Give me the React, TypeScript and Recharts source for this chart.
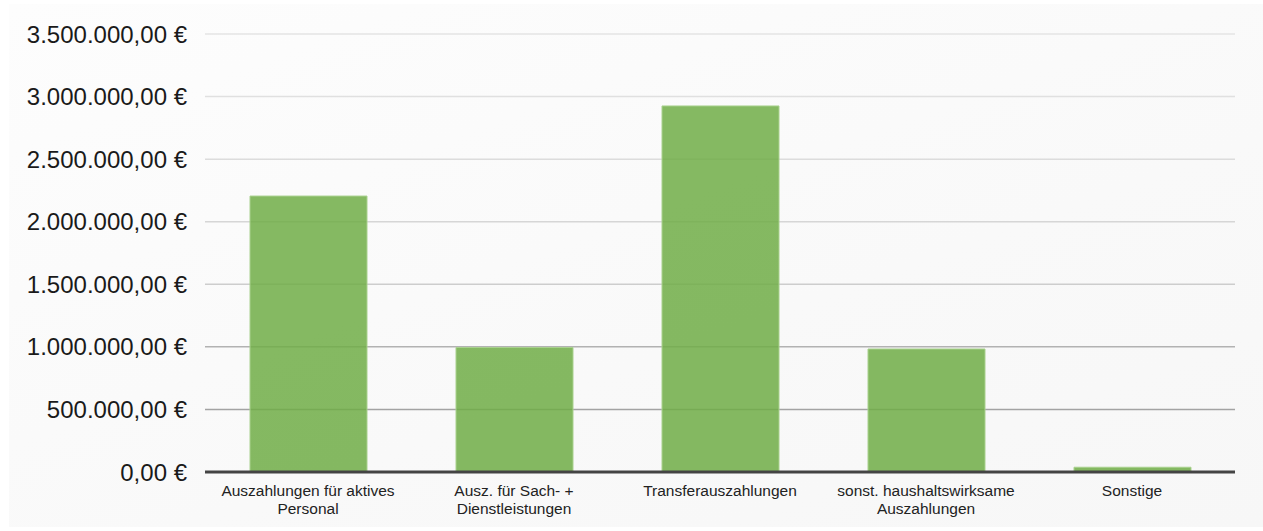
import { BarChart, Bar, XAxis, YAxis, CartesianGrid } from 'recharts'

// Kategorien (Zeilenumbruch mit \n) und Werte in Euro
const categories = [
  'Auszahlungen für aktives\nPersonal',
  'Ausz. für Sach- +\nDienstleistungen',
  'Transferauszahlungen',
  'sonst. haushaltswirksame\nAuszahlungen',
  'Sonstige'
]
const values = [2205000, 995000, 2925000, 983000, 38000]
const yTicks = [0, 500000, 1000000, 1500000, 2000000, 2500000, 3000000, 3500000]
// grid gets darker towards the bottom (same order as yTicks)
const gridColors = ['transparent', '#a3a3a3', '#b2b2b2', '#cdcdcd', '#d6d6d6', '#dcdcdc', '#e0e0e0', '#e4e4e4']

const data = categories.map((name, i) => ({ name, value: values[i] }))

const fmtEuro = (v: number) =>
  v.toLocaleString('de-DE', { minimumFractionDigits: 2, maximumFractionDigits: 2 }) + ' €'

function CategoryTick({ x, y, payload }: any) {
  const lines: string[] = String(payload.value).split('\n')
  return (
    <text x={x} y={y} textAnchor="middle" fill="#222" fontSize={15.5} fontFamily="'Liberation Sans', Arial, sans-serif">
      {lines.map((line, i) => (
        <tspan key={i} x={x} dy={i === 0 ? 16 : 18}>{line}</tspan>
      ))}
    </text>
  )
}

// one line per tick, each with its own shade
function GridLine(props: any) {
  const { x1, x2, y1, y2, index } = props
  const c = gridColors[index] ?? '#ddd'
  return <line x1={x1} x2={x2} y1={y1} y2={y2} stroke={c} strokeWidth={1.5} />
}

export default function App() {
  return (
    <div style={{ position: 'fixed', left: 0, top: 0, width: 1263, height: 531, background: '#fff' }}>
      <div style={{
        position: 'absolute', left: 9, top: 4, width: 1254, height: 523,
        background: 'linear-gradient(160deg, #fdfdfd 0%, #f9f9f9 60%, #f7f7f7 100%)'
      }} />
      <BarChart
        width={1263}
        height={531}
        data={data}
        margin={{ top: 34, right: 28, left: 0, bottom: 0 }}
        style={{ position: 'absolute', left: 0, top: 0 }}
      >
        <CartesianGrid vertical={false} horizontal={(p: any) => <GridLine {...p} />} />

        <YAxis
          width={205}
          domain={[0, 3500000]}
          ticks={yTicks}
          tickFormatter={fmtEuro}
          axisLine={false}
          tickLine={false}
          tickSize={0}
          tickMargin={18}
          tick={{ fontSize: 24, fill: '#1a1a1a', fontFamily: "'Liberation Sans', Arial, sans-serif" }}
        />

        <Bar
          dataKey="value"
          fill="#70ad47"
          fillOpacity={0.85}
          stroke="#a9d18e"
          strokeWidth={1}
          barSize={117}
          isAnimationActive={false}
        />

        <XAxis
          dataKey="name"
          height={59}
          interval={0}
          axisLine={{ stroke: '#444', strokeWidth: 3 }}
          tickLine={false}
          tick={<CategoryTick />}
        />
      </BarChart>
    </div>
  )
}
